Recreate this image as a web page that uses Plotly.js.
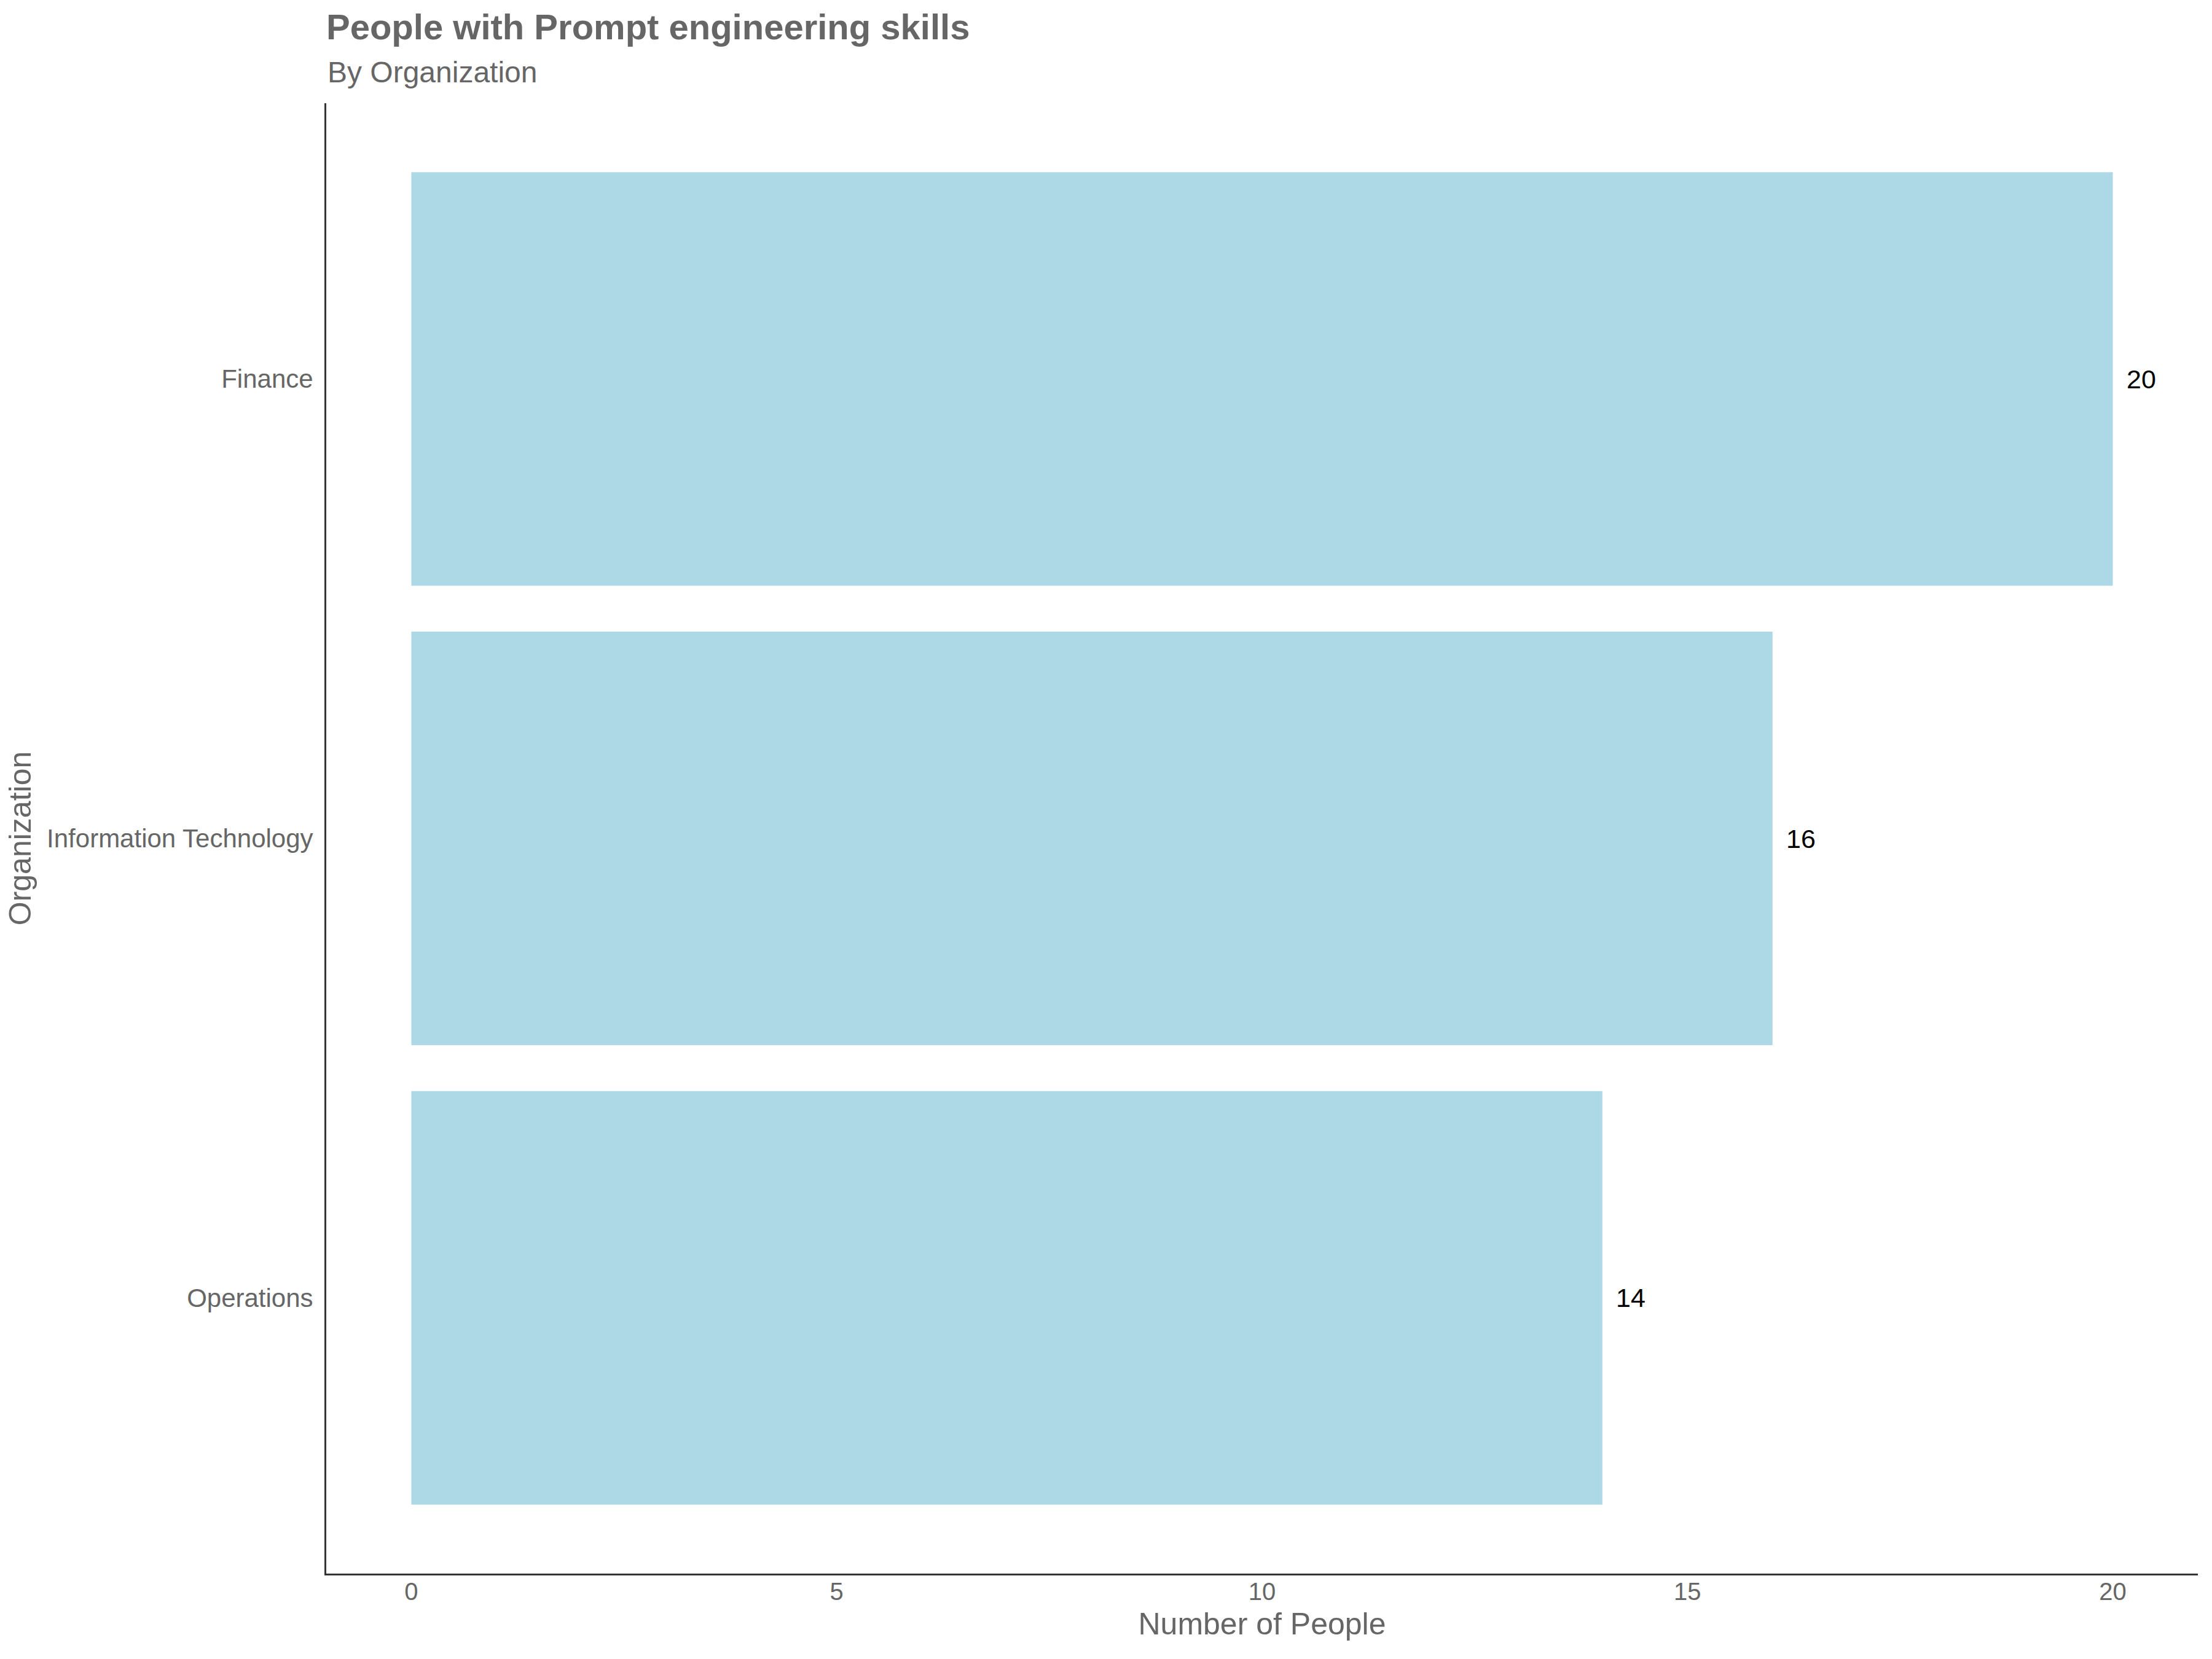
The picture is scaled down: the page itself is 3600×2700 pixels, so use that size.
<!DOCTYPE html>
<html>
<head>
<meta charset="utf-8">
<script src="https://cdn.plot.ly/plotly-3.0.1.min.js"></script>
<style>html,body{margin:0;padding:0;background:#fff;}</style>
</head>
<body>
<div id="chart" style="width:3600px;height:2700px;"></div>
<script>
const categories = ["Finance", "Information Technology", "Operations"];
const counts = [20, 16, 14];
const xTickValues = [0, 5, 10, 15, 20];
const xTickLabels = ["0", "5", "10", "15", "20"];
const titleText = "People with Prompt engineering skills";
const subtitleText = "By Organization";

const FONT = "Liberation Sans, Arial, Helvetica, sans-serif";
const GRAY = "#666666";

const trace = {
  type: "bar",
  orientation: "h",
  x: counts,
  y: categories,
  width: 0.9,
  marker: {color: "#ADD8E6", line: {width: 0}},
  hoverinfo: "x+y"
};

const annotations = categories.map((c, i) => ({
  x: counts[i], y: c, xref: "x", yref: "y",
  text: String(counts[i]), showarrow: false,
  xanchor: "left", yanchor: "middle", xshift: 20,
  font: {family: FONT, size: 43, color: "#000000"}
}));

annotations.push({
  xref: "paper", yref: "paper", x: 0, y: 1.0209,
  xanchor: "left", yanchor: "middle", showarrow: false,
  text: subtitleText,
  font: {family: FONT, size: 48, color: GRAY}
});

const layout = {
  width: 3600, height: 2700,
  paper_bgcolor: "#ffffff", plot_bgcolor: "#ffffff",
  margin: {l: 531, r: 23, t: 168, b: 139, pad: 0},
  showlegend: false,
  font: {family: FONT, color: GRAY},
  title: {
    text: "<b>" + titleText + "</b>",
    font: {family: FONT, size: 58, color: GRAY},
    xref: "paper", x: 0, xanchor: "left",
    yref: "container", y: 1 - 23/2700, yanchor: "top"
  },
  xaxis: {
    range: [-1, 21],
    tickvals: xTickValues, ticktext: xTickLabels,
    showgrid: false, zeroline: false,
    showline: true, linecolor: "#333333", linewidth: 3,
    ticks: "", ticklabelstandoff: -8,
    tickfont: {family: FONT, size: 40, color: GRAY},
    title: {text: "Number of People", font: {family: FONT, size: 50, color: GRAY}, standoff: 14},
    fixedrange: true
  },
  yaxis: {
    type: "category",
    categoryorder: "array",
    categoryarray: categories.slice().reverse(),
    range: [-0.6, 2.6],
    showgrid: false, zeroline: false,
    showline: true, linecolor: "#333333", linewidth: 3,
    ticks: "", ticklabelstandoff: 10,
    tickfont: {family: FONT, size: 42, color: GRAY},
    title: {text: "Organization", font: {family: FONT, size: 50, color: GRAY}, standoff: 10},
    fixedrange: true
  },
  annotations: annotations,
  bargap: 0.1
};

Plotly.newPlot("chart", [trace], layout, {displayModeBar: false, staticPlot: true});
</script>
</body>
</html>
